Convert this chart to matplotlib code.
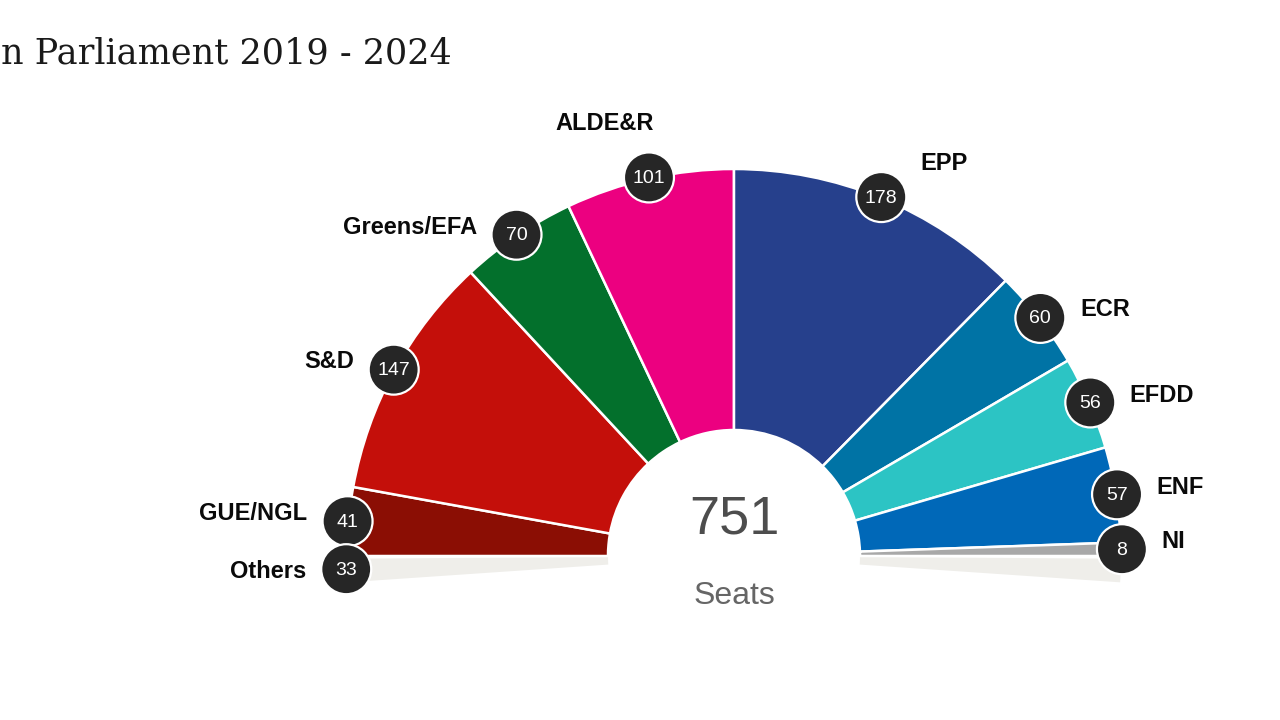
import math
import matplotlib
matplotlib.use("Agg")
import matplotlib.pyplot as plt
from matplotlib.patches import Wedge, Circle

# left to right around the half circle
parties = ["GUE/NGL", "S&D", "Greens/EFA", "ALDE&R", "EPP", "ECR", "EFDD", "ENF", "NI"]
seats = [41, 147, 70, 101, 178, 60, 56, 57, 8]
colors = ["#8b0e04", "#c40f0a", "#03702c", "#ec0080", "#26408c", "#0073a5", "#2cc4c4", "#0068b8", "#a8a8a8"]
others_seats = 33
total_seats = 751

# label centres in pixels from the top left
label_pos = [(253, 513), (329, 361), (410, 227), (605, 124), (944, 164),
             (1105, 310), (1162, 395), (1180, 488), (1173, 542)]
others_label_pos = (268, 572)

CX, CY = 734, 164
R_OUT, R_IN = 387, 126
R_BADGE = 388
OTHERS_SPREAD = 3.9  # degrees, the grey slices lie flat below the baseline
SANS = "Liberation Sans"

fig = plt.figure(figsize=(12.8, 7.2), dpi=100)
ax = fig.add_axes([0, 0, 1, 1])
ax.set_xlim(0, 1280)
ax.set_ylim(0, 720)
ax.axis("off")

per_seat = 180 / sum(seats)


def badge(angle, value):
    x = CX + R_BADGE * math.cos(math.radians(angle))
    y = CY + R_BADGE * math.sin(math.radians(angle))
    ax.add_patch(Circle((x, y), 25, facecolor="#262626", edgecolor="white", linewidth=1.6, zorder=4))
    ax.text(x, y - 1, str(value), color="white", fontsize=14, family=SANS,
            ha="center", va="center", zorder=5)


# flat slices under the baseline
for a1, a2 in [(180.4, 180 + OTHERS_SPREAD), (360 - OTHERS_SPREAD, 359.6)]:
    ax.add_patch(Wedge((CX, CY), R_OUT, a1, a2, width=R_OUT - R_IN,
                       facecolor="#efeeea", edgecolor="none"))

end = 180.0
mids = []
for value, color in zip(seats, colors):
    start = end - value * per_seat
    ax.add_patch(Wedge((CX, CY), R_OUT, start, end, width=R_OUT - R_IN,
                       facecolor=color, edgecolor="white", linewidth=1.8))
    mids.append((start + end) / 2)
    end = start

for name, value, mid, pos in zip(parties, seats, mids, label_pos):
    badge(mid, value)
    ax.text(pos[0], 720 - pos[1], name, fontsize=17, fontweight="bold", family=SANS,
            color="#0a0a0a", ha="center", va="center")

badge(180 + OTHERS_SPREAD / 2, others_seats)
ax.text(others_label_pos[0], 720 - others_label_pos[1], "Others", fontsize=17,
        fontweight="bold", family=SANS, color="#0a0a0a", ha="center", va="center")

ax.text(CX, 720 - 520, str(total_seats), fontsize=39, family=SANS, color="#4d4d4d",
        ha="center", va="center")
ax.text(CX, 720 - 596, "Seats", fontsize=23, family=SANS, color="#666666",
        ha="center", va="center")

# only the tail of the page title is in the screenshot
ax.text(452, 720 - 64, "n Parliament 2019 - 2024", fontsize=25.2, family="DejaVu Serif",
        color="#1a1a1a", ha="right", va="baseline")

fig.savefig("out.png", dpi=100, facecolor="white")
